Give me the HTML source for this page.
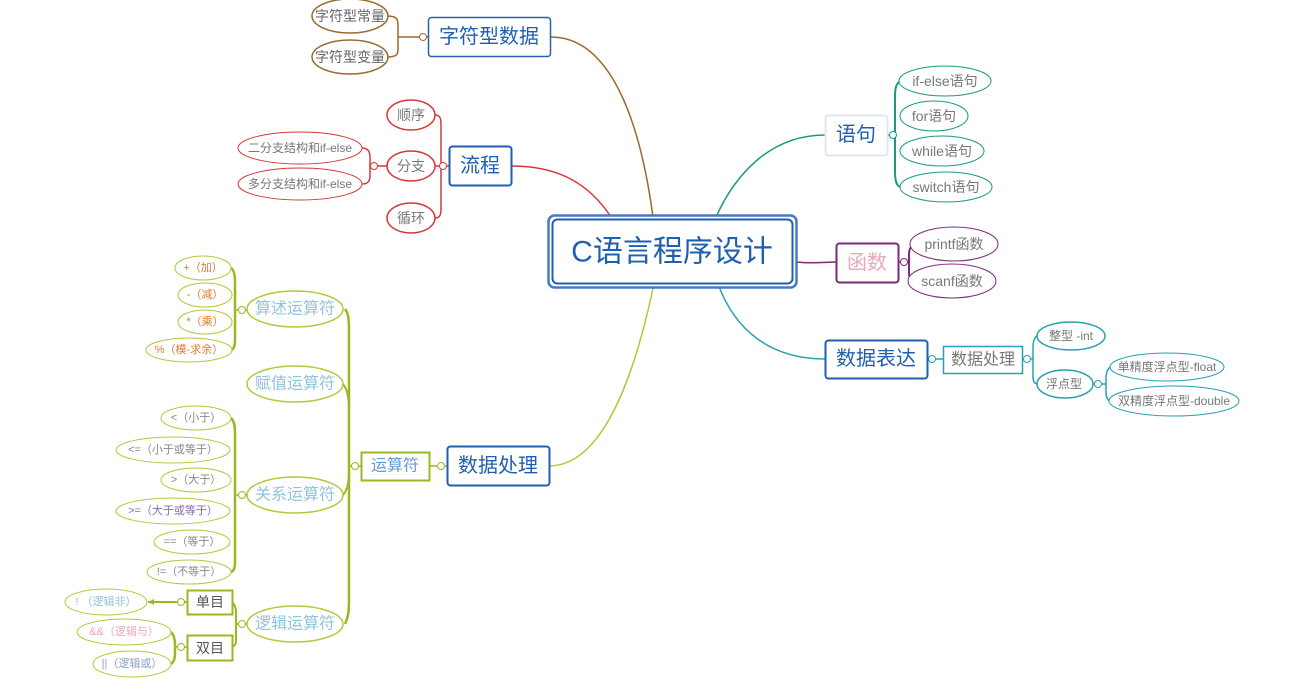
<!DOCTYPE html>
<html><head><meta charset="utf-8"><style>
html,body{margin:0;padding:0;background:#fff;width:1311px;height:689px;overflow:hidden}
svg{display:block}
text{font-family:"Liberation Sans","Noto Sans CJK SC",sans-serif;text-anchor:middle;dominant-baseline:central}
</style></head><body>
<svg width="1311" height="689" viewBox="0 0 1311 689" xmlns="http://www.w3.org/2000/svg">
<g fill="none" stroke-width="1.5">
<path d="M551,37 C610,37 640,120 653,217" stroke="#9a6a30"/>
<path d="M512,166 C560,166 590,185 611,217" stroke="#d43a3a"/>
<path d="M549,466 C610,466 640,350 654,284" stroke="#b4c83a"/>
<path d="M825,135 C770,135 735,175 716,217" stroke="#1a9a80"/>
<path d="M796,262 C815,264 825,262 836,262" stroke="#7a2a78"/>
<path d="M825,359 C770,359 735,330 718,284" stroke="#2aa0b0"/>

<path d="M386,16 C396,16 398,18 398,25 L398,50 C398,55 396,57 386,57" stroke="#a0682a"/>
<path d="M398,37 L428,37" stroke="#a0682a"/>
<path d="M435,115 C440,115 441,118 441,125 L441,208 C441,215 440,218 435,218" stroke="#d43a3a"/>
<path d="M435,166 L449,166" stroke="#d43a3a"/>
<path d="M362,148 C368,148 370,152 370,157 L370,176 C370,181 368,184 362,184" stroke="#d43a3a"/>
<path d="M370,166 L387,166" stroke="#d43a3a"/>
<path d="M900,81 C895,85 895,90 895,100 L895,170 C895,180 896,185 900,187" stroke="#1a9a80" stroke-width="2"/>
<path d="M887,135 L895,135" stroke="#1a9a80"/>
<path d="M915,244 C910,246 909,250 909,255 L909,272 C909,277 910,280 915,281" stroke="#7a2a78" stroke-width="2"/>
<path d="M898,262 L909,262" stroke="#7a2a78"/>
<path d="M927,359 L943,359" stroke="#2aa0b0"/>
<path d="M1037,336 C1034,338 1033,342 1033,348 L1033,376 C1033,381 1034,383 1037,384" stroke="#2aa0b0"/>
<path d="M1022,359 L1033,359" stroke="#2aa0b0"/>
<path d="M1110,367 C1107,370 1106,373 1106,378 L1106,392 C1106,397 1107,400 1110,401" stroke="#2aa0b0"/>
<path d="M1092,384 L1106,384" stroke="#2aa0b0"/>
<path d="M429,466 L447,466" stroke="#9ab820"/>
<path d="M345,309 C348,313 349,318 349,330 L349,600 C349,612 348,618 345,624" stroke="#9ab820" stroke-width="2.5"/>
<path d="M343,384 C348,390 349,400 349,410 M343,495 C348,490 349,480 349,470" stroke="#9ab820" stroke-width="2"/>
<path d="M349,466 L361,466" stroke="#9ab820"/>
<path d="M231,268 C234,270 235,275 235,282 L235,340 C235,346 234,349 231,350" stroke="#9ab820" stroke-width="2.5"/>
<path d="M235,310 L247,310" stroke="#9ab820"/>
<path d="M231,418 C234,421 235,425 235,432 L235,562 C235,568 234,571 231,572" stroke="#9ab820" stroke-width="2.5"/>
<path d="M235,495 L247,495" stroke="#9ab820"/>
<path d="M232,602 C235,605 236,608 236,612 L236,640 C236,644 235,646 232,647" stroke="#9ab820" stroke-width="2"/>
<path d="M236,624 L247,624" stroke="#9ab820"/>
<path d="M148,602 L187,602" stroke="#9ab820" stroke-width="2"/>
<path d="M171,632 C174,635 175,640 175,645 L175,653 C175,658 174,662 171,664" stroke="#9ab820" stroke-width="2.5"/>
<path d="M175,647 L187,647" stroke="#9ab820"/>
</g>
<polygon points="148,602 154,599 154,605" fill="#9ab820"/>

<g fill="#fff" stroke-width="1">
<circle cx="423" cy="37" r="3.5" stroke="#a0682a"/>
<circle cx="443" cy="166" r="3.5" stroke="#d43a3a"/>
<circle cx="374" cy="166" r="3.5" stroke="#d43a3a"/>
<circle cx="893" cy="135" r="3.5" stroke="#1a9a80"/>
<circle cx="904" cy="262" r="3.5" stroke="#7a2a78"/>
<circle cx="932" cy="359" r="3.5" stroke="#2aa0b0"/>
<circle cx="1027" cy="359" r="3.5" stroke="#2aa0b0"/>
<circle cx="1098" cy="384" r="3.5" stroke="#2aa0b0"/>
<circle cx="441" cy="466" r="3.5" stroke="#9ab820"/>
<circle cx="355" cy="466" r="3.5" stroke="#9ab820"/>
<circle cx="242" cy="310" r="3.5" stroke="#9ab820"/>
<circle cx="242" cy="495" r="3.5" stroke="#9ab820"/>
<circle cx="242" cy="624" r="3.5" stroke="#9ab820"/>
<circle cx="181" cy="602" r="3.5" stroke="#9ab820"/>
<circle cx="181" cy="647" r="3.5" stroke="#9ab820"/>
</g>

<rect x="548.5" y="215.5" width="248" height="72" rx="6" fill="#fff" stroke="#4a78c0" stroke-width="2.5"/>
<rect x="552.5" y="219.5" width="240" height="64" rx="5" fill="#fff" stroke="#1f5fb0" stroke-width="2"/>
<text x="672" y="252" font-size="30" fill="#1f5fb0">C语言程序设计</text>

<rect x="428.5" y="17.5" width="122" height="39" rx="3" fill="#fff" stroke="#2a5fb0" stroke-width="1.5"/>
<text x="489" y="37" font-size="20" fill="#1f5fb0">字符型数据</text>
<rect x="449.5" y="146.5" width="62" height="39" rx="3" fill="#fff" stroke="#1f5fb0" stroke-width="2"/>
<text x="480" y="166" font-size="20" fill="#1f5fb0">流程</text>
<rect x="825.5" y="115.5" width="62" height="40" rx="3" fill="#fff" stroke="#dde8f0" stroke-width="2"/>
<text x="856" y="135" font-size="20" fill="#1f5fb0">语句</text>
<rect x="836.5" y="243.5" width="62" height="39" rx="3" fill="#fff" stroke="#7a2a78" stroke-width="2"/>
<text x="867" y="263" font-size="20" fill="#e8a8b8">函数</text>
<rect x="825.5" y="340.5" width="102" height="38" rx="3" fill="#fff" stroke="#1f5fb0" stroke-width="2"/>
<text x="876" y="359" font-size="20" fill="#1f5fb0">数据表达</text>
<rect x="943.5" y="346.5" width="79" height="27" fill="#fff" stroke="#2aa0b0" stroke-width="1.5"/>
<text x="983" y="360" font-size="16" fill="#777">数据处理</text>
<rect x="447.5" y="446.5" width="102" height="39" rx="3" fill="#fff" stroke="#1f5fb0" stroke-width="2"/>
<text x="498" y="466" font-size="20" fill="#1f5fb0">数据处理</text>
<rect x="361.5" y="452.5" width="68" height="28" fill="#fff" stroke="#9ab820" stroke-width="2"/>
<text x="395" y="466" font-size="16" fill="#6a9ad0">运算符</text>
<rect x="187.5" y="590.5" width="45" height="24" fill="#fff" stroke="#9ab820" stroke-width="2"/>
<text x="210" y="602" font-size="14" fill="#555">单目</text>
<rect x="187.5" y="635.5" width="45" height="25" fill="#fff" stroke="#9ab820" stroke-width="2"/>
<text x="210" y="648" font-size="14" fill="#555">双目</text>

<g fill="#fff" stroke-width="1.5">
<ellipse cx="350" cy="16" rx="38" ry="17" stroke="#9a6a30"/>
<ellipse cx="350" cy="57" rx="38" ry="17" stroke="#9a6a30"/>
<ellipse cx="411" cy="115" rx="24" ry="15" stroke="#d43a3a"/>
<ellipse cx="411" cy="166" rx="24" ry="15" stroke="#d43a3a"/>
<ellipse cx="411" cy="218" rx="24" ry="15" stroke="#d43a3a"/>
<ellipse cx="300" cy="148" rx="62" ry="16" stroke="#d43a3a" stroke-width="1"/>
<ellipse cx="300" cy="184" rx="62" ry="16" stroke="#d43a3a" stroke-width="1"/>
<ellipse cx="945" cy="81" rx="46" ry="15" stroke="#1a9a80" stroke-width="1"/>
<ellipse cx="934" cy="116" rx="34" ry="15" stroke="#1a9a80" stroke-width="1"/>
<ellipse cx="942" cy="151" rx="42" ry="15" stroke="#1a9a80" stroke-width="1"/>
<ellipse cx="946" cy="187" rx="46" ry="15" stroke="#1a9a80" stroke-width="1"/>
<ellipse cx="954" cy="244" rx="44" ry="17" stroke="#7a2a78" stroke-width="1"/>
<ellipse cx="952" cy="281" rx="44" ry="17" stroke="#7a2a78" stroke-width="1"/>
<ellipse cx="1071" cy="336" rx="34" ry="14" stroke="#2aa0b0"/>
<ellipse cx="1065" cy="384" rx="28" ry="14" stroke="#2aa0b0"/>
<ellipse cx="1167" cy="367" rx="57" ry="14" stroke="#2aa0b0" stroke-width="1"/>
<ellipse cx="1174" cy="401" rx="65" ry="15" stroke="#2aa0b0" stroke-width="1"/>
<ellipse cx="295" cy="309" rx="48" ry="18" stroke="#b4c83a"/>
<ellipse cx="295" cy="384" rx="48" ry="18" stroke="#b4c83a"/>
<ellipse cx="295" cy="495" rx="48" ry="18" stroke="#b4c83a"/>
<ellipse cx="295" cy="624" rx="48" ry="18" stroke="#b4c83a"/>
<ellipse cx="203" cy="268" rx="28" ry="12" stroke="#b4c83a" stroke-width="1"/>
<ellipse cx="205" cy="295" rx="27" ry="12" stroke="#b4c83a" stroke-width="1"/>
<ellipse cx="205" cy="322" rx="27" ry="12" stroke="#b4c83a" stroke-width="1"/>
<ellipse cx="189" cy="350" rx="43" ry="12" stroke="#b4c83a" stroke-width="1"/>
<ellipse cx="196" cy="418" rx="35" ry="12" stroke="#b4c83a" stroke-width="1"/>
<ellipse cx="173" cy="450" rx="57" ry="13" stroke="#b4c83a" stroke-width="1"/>
<ellipse cx="196" cy="480" rx="35" ry="12" stroke="#b4c83a" stroke-width="1"/>
<ellipse cx="173" cy="511" rx="57" ry="13" stroke="#b4c83a" stroke-width="1"/>
<ellipse cx="192" cy="542" rx="38" ry="12" stroke="#b4c83a" stroke-width="1"/>
<ellipse cx="189" cy="572" rx="42" ry="12" stroke="#b4c83a" stroke-width="1"/>
<ellipse cx="106" cy="602" rx="41" ry="13" stroke="#b4c83a" stroke-width="1"/>
<ellipse cx="124" cy="632" rx="47" ry="13" stroke="#b4c83a" stroke-width="1"/>
<ellipse cx="132" cy="664" rx="39" ry="13" stroke="#b4c83a" stroke-width="1"/>
</g>

<g fill="#666" font-size="14">
<text x="350" y="16">字符型常量</text>
<text x="350" y="57">字符型变量</text>
</g>
<g fill="#777" font-size="14">
<text x="411" y="115">顺序</text>
<text x="411" y="166">分支</text>
<text x="411" y="218">循环</text>
</g>
<g fill="#777" font-size="12">
<text x="300" y="148">二分支结构和if-else</text>
<text x="300" y="184">多分支结构和if-else</text>
</g>
<g fill="#777" font-size="14">
<text x="945" y="81">if-else语句</text>
<text x="934" y="116">for语句</text>
<text x="942" y="151">while语句</text>
<text x="946" y="187">switch语句</text>
<text x="954" y="244">printf函数</text>
<text x="952" y="281">scanf函数</text>
</g>
<g fill="#777" font-size="12">
<text x="1071" y="336">整型 -int</text>
<text x="1064" y="384">浮点型</text>
<text x="1167" y="367">单精度浮点型-float</text>
<text x="1174" y="401">双精度浮点型-double</text>
</g>
<g fill="#90c4dc" font-size="16">
<text x="295" y="309">算述运算符</text>
<text x="295" y="384">赋值运算符</text>
<text x="295" y="495">关系运算符</text>
<text x="295" y="624">逻辑运算符</text>
</g>
<g fill="#e07a30" font-size="11">
<text x="203" y="268">+（加）</text>
<text x="205" y="295">-（减）</text>
<text x="205" y="322">*（乘）</text>
<text x="189" y="350">%（模-求余）</text>
</g>
<g fill="#888" font-size="11">
<text x="196" y="418">&lt;（小于）</text>
<text x="173" y="450">&lt;=（小于或等于）</text>
<text x="196" y="480">&gt;（大于）</text>
<text x="173" y="511" fill="#8a6ab0">&gt;=（大于或等于）</text>
<text x="192" y="542">==（等于）</text>
<text x="189" y="572">!=（不等于）</text>
</g>
<g font-size="11">
<text x="106" y="602" fill="#90c4dc">!  （逻辑非）</text>
<text x="124" y="632" fill="#e8a8b8">&amp;&amp;（逻辑与）</text>
<text x="132" y="664" fill="#8aa0d0">||（逻辑或）</text>
</g>
</svg>
</body></html>
